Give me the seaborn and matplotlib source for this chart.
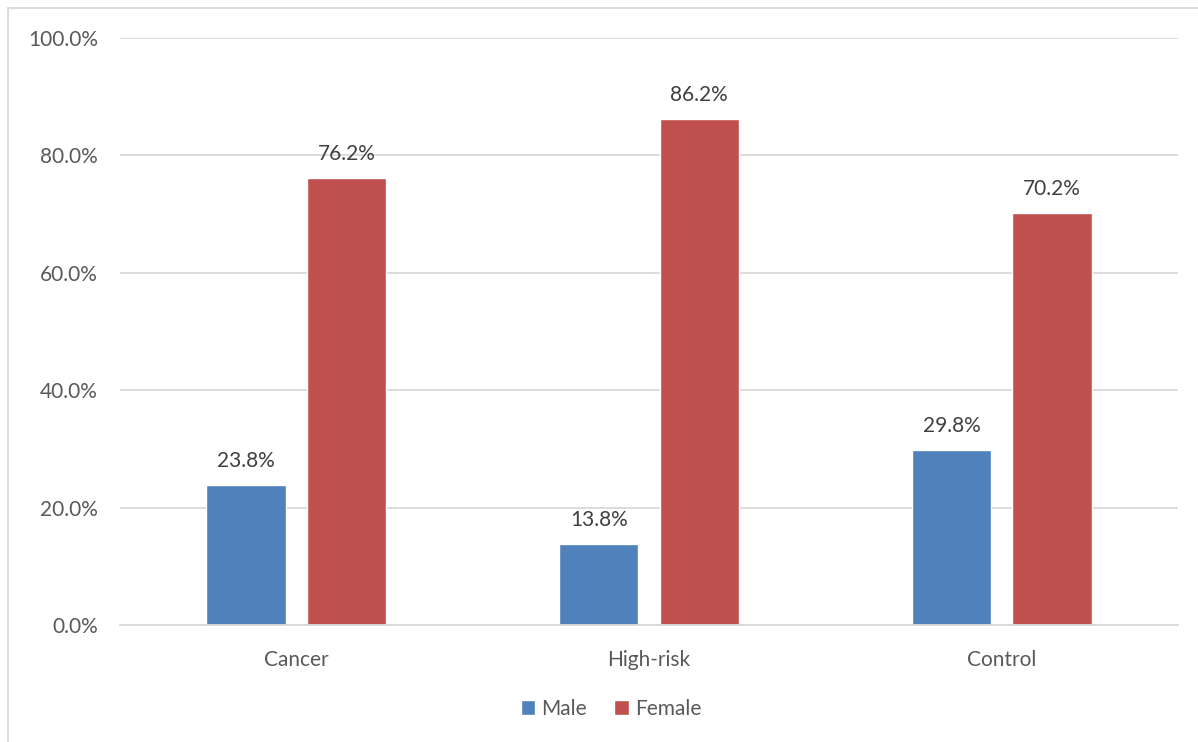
import pandas as pd
import matplotlib.pyplot as plt
import seaborn as sns
from matplotlib.patches import Rectangle
from matplotlib.ticker import PercentFormatter

groups = ["Cancer", "High-risk", "Control"]
male = [23.8, 13.8, 29.8]
female = [76.2, 86.2, 70.2]
sexes = ["Male", "Female"]
colors = ["#4F81BD", "#C0504D"]

df = pd.DataFrame({
    "group": groups * 2,
    "sex": ["Male"] * 3 + ["Female"] * 3,
    "value": male + female,
})

sns.set_style("white")
plt.rcParams["font.family"] = ["Lato", "DejaVu Sans"]

fig = plt.figure(figsize=(11.98, 7.42), dpi=100)
ax = fig.add_axes([0.1002, 0.1577, 0.8831, 0.7911])

sns.barplot(data=df, x="group", y="value", hue="sex", order=groups,
            hue_order=sexes, palette=colors, width=0.57, gap=0.21,
            saturation=1, ax=ax, legend=True)

for cont in ax.containers:
    ax.bar_label(cont, labels=[f"{v:.1f}%" for v in cont.datavalues],
                 padding=10, fontsize=15, color="#404040")

ax.set_ylim(0, 100)
ax.set_yticks(range(0, 101, 20))
ax.yaxis.set_major_formatter(PercentFormatter(decimals=1))
ax.grid(axis="y", color="#D9D9D9", linewidth=1.3)
ax.set_axisbelow(True)
for s in ["top", "right", "left"]:
    ax.spines[s].set_visible(False)
ax.spines["bottom"].set_color("#D9D9D9")
ax.spines["bottom"].set_linewidth(1.3)
ax.tick_params(axis="both", length=0, labelsize=15, labelcolor="#595959")
ax.tick_params(axis="y", pad=16)
ax.tick_params(axis="x", pad=18)
ax.set_xlabel("")
ax.set_ylabel("")

ax.legend(loc="center", bbox_to_anchor=(0.464, -0.143), ncol=2, frameon=False,
          fontsize=15, labelcolor="#595959", handlelength=0.7, handleheight=0.7,
          handletextpad=0.3, columnspacing=1.3)

fig.patches.append(Rectangle((8 / 1198, -0.1), 1.2, 1 - 8 / 742 + 0.1,
                             transform=fig.transFigure, fill=False,
                             edgecolor="#D9D9D9", linewidth=1.3))

fig.savefig("out.png", dpi=100)
